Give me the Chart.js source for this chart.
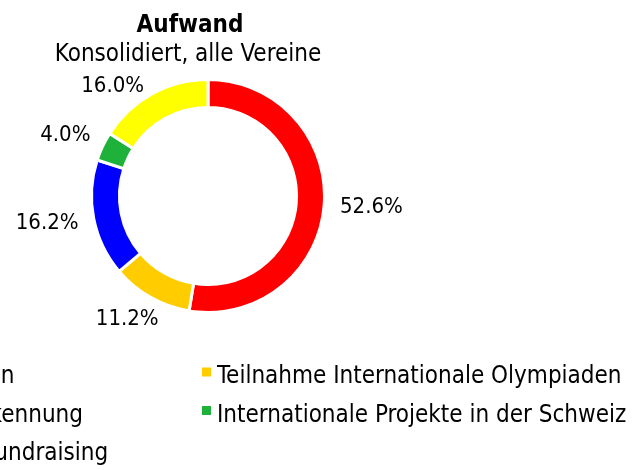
<!DOCTYPE html>
<html><head><meta charset="utf-8">
<script src="https://cdn.jsdelivr.net/npm/chart.js@4.4.1/dist/chart.umd.min.js"></script>
<style>html,body{margin:0;padding:0;background:#fff;overflow:hidden;} #wrap{position:relative;width:638px;height:470px;}</style>
</head><body><div id="wrap"><canvas id="c" width="638" height="470"></canvas></div>
<script>
const categories = ["Nationale Olympiaden", "Teilnahme Internationale Olympiaden", "Förderung und Anerkennung", "Internationale Projekte in der Schweiz", "Administration und fundraising"];
const values = [52.6, 11.2, 16.2, 4.0, 16.0];
const colors = ["#FF0000", "#FFCC00", "#0000FF", "#1FB23A", "#FFFF00"];
const titleText = "Aufwand";
const subtitleText = "Konsolidiert, alle Vereine";

const FONT = "'DejaVu Sans Condensed','DejaVu Sans',sans-serif";

const titlePlugin = {
  id: 'customTitle',
  afterDraw(chart) {
    const ctx = chart.ctx;
    ctx.save();
    ctx.fillStyle = '#000';
    ctx.textAlign = 'center';
    ctx.textBaseline = 'alphabetic';
    ctx.font = `bold 24px ${FONT}`;
    ctx.fillText(titleText, 190, 32);
    ctx.font = `24px ${FONT}`;
    ctx.fillText(subtitleText, 188, 61);
    ctx.restore();
  }
};

const labelPlugin = {
  id: 'outsideLabels',
  afterDatasetsDraw(chart) {
    const ctx = chart.ctx;
    const meta = chart.getDatasetMeta(0);
    ctx.save();
    ctx.font = `22px ${FONT}`;
    ctx.fillStyle = '#000';
    ctx.textAlign = 'center';
    ctx.textBaseline = 'middle';
    meta.data.forEach((arc, i) => {
      const p = arc.getProps(['x', 'y', 'startAngle', 'endAngle', 'outerRadius'], true);
      const mid = (p.startAngle + p.endAngle) / 2;
      const r = p.outerRadius + 16;
      const ax = p.x + Math.cos(mid) * r;
      const ay = p.y + Math.sin(mid) * r;
      const text = values[i].toFixed(1) + '%';
      const w = ctx.measureText(text).width, h = 18;
      let cx = ax + Math.cos(mid) * w / 2;
      let cy = ay + Math.sin(mid) * h / 2;
      const minTop = 77;
      if (cy - h / 2 < minTop) {
        // keep clear of the subtitle: push down, then slide sideways until the box clears the ring
        cy = minTop + h / 2;
        const clear = p.outerRadius + 3;
        const dy = (cy + h / 2) - p.y;
        if (Math.abs(dy) < clear) {
          const dx = Math.sqrt(clear * clear - dy * dy);
          cx = Math.cos(mid) < 0 ? p.x - dx - w / 2 : p.x + dx + w / 2;
        }
      }
      ctx.fillText(text, cx, cy);
    });
    ctx.restore();
  }
};

const legendPlugin = {
  id: 'columnLegend',
  afterDraw(chart) {
    const ctx = chart.ctx;
    const colX = [-226, 217];
    const rowY = [383, 421.5, 460];
    ctx.save();
    ctx.font = `24px ${FONT}`;
    ctx.textAlign = 'left';
    ctx.textBaseline = 'alphabetic';
    categories.forEach((label, i) => {
      const x = colX[i % 2];
      const y = rowY[Math.floor(i / 2)];
      ctx.fillStyle = colors[i];
      ctx.fillRect(x - 15, y - 15.5, 9, 9);
      ctx.fillStyle = '#000';
      ctx.fillText(label, x, y);
    });
    ctx.restore();
  }
};

new Chart(document.getElementById('c'), {
  type: 'doughnut',
  data: {
    labels: categories,
    datasets: [{
      data: values,
      backgroundColor: colors,
      borderColor: '#FFFFFF',
      borderWidth: 3,
      hoverOffset: 0
    }]
  },
  options: {
    responsive: false,
    animation: false,
    devicePixelRatio: 1,
    cutout: '76%',
    layout: { padding: { top: 78, bottom: 156, left: 90, right: 312 } },
    plugins: {
      legend: { display: false },
      title: { display: false },
      tooltip: { enabled: false }
    },
    events: []
  },
  plugins: [titlePlugin, labelPlugin, legendPlugin]
});
</script>
</body></html>
